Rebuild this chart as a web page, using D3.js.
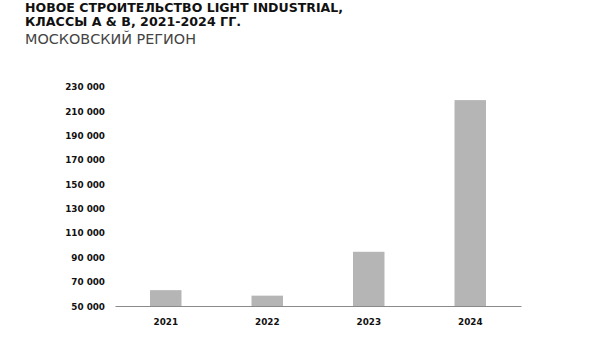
<!DOCTYPE html>
<html><head><meta charset="utf-8">
<script src="https://cdn.jsdelivr.net/npm/d3@7"></script>
<style>
html,body{margin:0;padding:0;background:#fff;}
svg{display:block;}
</style></head>
<body>
<svg id="chart" width="600" height="338"></svg>
<script>
const categories = ["2021", "2022", "2023", "2024"];
const values = [63000, 58500, 94500, 219000];
const yTicks = [50000, 70000, 90000, 110000, 130000, 150000, 170000, 190000, 210000, 230000];
const titleLines = ["НОВОЕ СТРОИТЕЛЬСТВО LIGHT INDUSTRIAL,", "КЛАССЫ А & В, 2021-2024 ГГ."];
const subtitle = "МОСКОВСКИЙ РЕГИОН";

const svg = d3.select("#chart");
const font = "'DejaVu Sans', sans-serif";

const x = d3.scaleBand().domain(categories).range([115, 521]).paddingInner(0.69).paddingOuter(0.345);
const y = d3.scaleLinear().domain([50000, 230000]).range([306, 86.7]);

// title
svg.append("text").attr("x", 25).attr("y", 11.6)
  .attr("font-family", font).attr("font-weight", 700).attr("font-size", 12.3)
  .attr("fill", "#111").attr("textLength", 318).attr("lengthAdjust", "spacingAndGlyphs")
  .text(titleLines[0]);
svg.append("text").attr("x", 25).attr("y", 26.2)
  .attr("font-family", font).attr("font-weight", 700).attr("font-size", 12.3)
  .attr("fill", "#111").attr("textLength", 216).attr("lengthAdjust", "spacingAndGlyphs")
  .text(titleLines[1]);
svg.append("text").attr("x", 25).attr("y", 43.8)
  .attr("font-family", font).attr("font-weight", 400).attr("font-size", 14)
  .attr("fill", "#444").attr("textLength", 171).attr("lengthAdjust", "spacingAndGlyphs")
  .text(subtitle);

// y axis labels
const fmt = v => d3.format(",")(v).replace(/,/g, " ");
const yAxis = d3.axisLeft(y).tickValues(yTicks).tickFormat(fmt).tickSize(0).tickPadding(0);
const gy = svg.append("g").attr("transform", "translate(105,0)").call(yAxis);
gy.select(".domain").remove();
gy.selectAll("text").attr("font-family", font).attr("font-weight", 700)
  .attr("font-size", 8.8).attr("fill", "#111").attr("dy", "0.35em");

// bars
svg.append("g").selectAll("rect").data(categories).join("rect")
  .attr("x", d => x(d))
  .attr("width", x.bandwidth())
  .attr("y", (d, i) => y(values[i]))
  .attr("height", (d, i) => y(50000) - y(values[i]))
  .attr("fill", "#b5b5b5");

// x axis
const xAxis = d3.axisBottom(x).tickSize(0).tickPadding(0);
const gx = svg.append("g").attr("transform", "translate(0,306)").call(xAxis);
gx.select(".domain").attr("stroke", "#8a8a8a").attr("stroke-width", 1);
gx.selectAll("text").attr("font-family", font).attr("font-weight", 700)
  .attr("font-size", 8.8).attr("fill", "#111").attr("y", 19).attr("dy", 0);
</script>
</body></html>
